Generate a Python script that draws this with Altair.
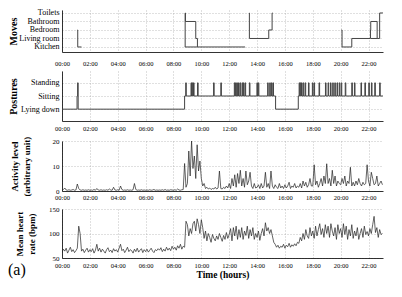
import json
import altair as alt
import pandas as pd

FONT = "Liberation Serif"

# ---------------- data ----------------
ROOMS = ["Kitchen", "Living room", "Bedroom", "Bathroom", "Toilets"]
move_seg = [0, 0, 0,
            1, 1, 1, 1, 1, 1,
            2, 2,
            3, 3, 3, 3, 3,
            4, 4, 4, 4, 4, 4, 4, 4,
            5, 5]
move_time = [1.10, 1.13, 1.40,
             8.82, 8.84, 8.86, 9.60, 9.72, 13.14,
             8.84, 9.72,
             13.43, 13.45, 14.84, 15.08, 15.12,
             20.06, 20.10, 20.80, 22.14, 22.16, 22.62, 22.80, 23.04,
             22.16, 22.62]
move_room = ["Bedroom", "Kitchen", "Kitchen",
             "Kitchen", "Toilets", "Bathroom", "Living room", "Kitchen", "Kitchen",
             "Kitchen", "Kitchen",
             "Toilets", "Living room", "Bedroom", "Toilets", "Toilets",
             "Bedroom", "Kitchen", "Living room", "Bedroom", "Bathroom", "Living room", "Toilets", "Toilets",
             "Living room", "Living room"]

POSTURES = ["Lying down", "Sitting", "Standing"]
posture_start = [(0.00, "Lying down"), (1.08, "Sitting"), (1.12, "Standing"),
                 (1.16, "Lying down"), (8.80, "Sitting")]
standing_bouts_am = [8.88, 9.26, 9.35, 9.44, 9.73, 10.88, 11.40, 12.37, 12.46, 12.55,
                     12.67, 12.79, 12.93, 13.02, 13.14, 13.45, 13.99, 14.09, 14.76,
                     14.91, 15.03, 15.14]
posture_mid = [(15.33, "Lying down"), (16.96, "Sitting")]
standing_bouts_pm = [17.02, 17.10, 17.19, 17.31, 17.45, 17.69, 17.97, 18.09, 18.45,
                     18.91, 19.10, 19.27, 19.43, 19.58, 19.74, 19.90, 20.04, 20.33,
                     20.80, 20.99, 21.46, 21.74, 22.02, 22.21, 22.45, 22.80]
bout_length = 0.04
posture_end = (23.04, "Sitting")

sample_step = 0.1  # hours between samples (one row per hour below)
activity = [
    0.4, 0.6, 1.2, 0.4, 0.3, 0.5, 0.3, 0.4, 0.6, 0.3,
    0.4, 2.8, 1.0, 0.4, 0.3, 0.5, 0.3, 0.4, 0.3, 0.5,
    0.3, 0.4, 0.3, 0.6, 0.3, 1.0, 0.4, 0.3, 0.5, 0.3,
    0.4, 0.3, 0.5, 0.3, 0.8, 0.4, 0.3, 1.5, 0.4, 0.3,
    0.5, 0.3, 2.0, 0.6, 0.3, 0.4, 0.3, 0.5, 0.3, 0.4,
    0.3, 0.5, 3.0, 0.6, 0.3, 0.4, 0.3, 0.5, 0.3, 0.4,
    0.3, 0.4, 0.3, 0.5, 0.3, 0.4, 0.6, 0.3, 0.4, 0.3,
    0.4, 0.3, 0.5, 0.3, 0.6, 0.3, 0.4, 0.3, 0.5, 0.4,
    0.3, 0.5, 0.3, 0.8, 0.4, 0.3, 0.5, 0.6, 11.0, 1.5,
    3.0, 16.0, 6.0, 20.0, 9.0, 14.0, 5.0, 18.5, 8.0, 12.0,
    5.0, 2.0, 3.0, 1.0, 1.5, 0.8, 1.2, 0.6, 1.0, 0.8,
    1.5, 0.8, 1.2, 8.0, 1.0, 0.8, 1.5, 1.0, 2.0, 1.2,
    3.0, 1.0, 5.0, 2.0, 6.5, 1.5, 7.0, 3.0, 8.3, 2.0,
    5.0, 1.5, 8.0, 2.5, 4.0, 7.5, 2.0, 1.0, 3.0, 1.2,
    1.5, 2.5, 1.0, 3.0, 1.2, 2.0, 7.5, 1.5, 3.0, 1.0,
    8.0, 2.0, 1.0, 2.5, 1.5, 1.0, 3.0, 1.2, 2.0, 1.0,
    2.5, 1.2, 2.0, 3.5, 1.0, 2.0, 1.5, 3.0, 1.2, 2.0,
    1.5, 3.0, 1.2, 4.0, 2.0, 3.5, 1.5, 2.5, 5.0, 2.0,
    2.0, 10.5, 2.5, 4.0, 1.5, 3.0, 5.0, 2.0, 6.0, 3.0,
    10.9, 3.0, 5.0, 2.0, 8.3, 3.0, 6.0, 2.0, 4.0, 3.0,
    2.5, 5.0, 3.0, 6.0, 2.0, 4.0, 3.0, 9.5, 2.0, 3.5,
    2.0, 4.0, 2.5, 5.0, 3.0, 2.0, 3.5, 2.5, 3.0, 10.5,
    4.0, 2.0, 7.5, 5.0, 2.5, 3.0, 6.0, 2.0, 3.0, 4.0,
    2.5,
]
heart = [
    62, 68, 64, 70, 60, 66, 72, 63, 67, 61,
    65, 70, 115, 100, 64, 68, 61, 66, 70, 62,
    67, 63, 69, 60, 66, 78, 64, 70, 62, 68,
    64, 60, 67, 71, 63, 66, 61, 69, 64, 67,
    62, 70, 78, 65, 68, 61, 66, 72, 63, 67,
    65, 60, 68, 63, 70, 62, 66, 69, 61, 67,
    63, 68, 62, 66, 70, 64, 61, 67, 65, 69,
    66, 71, 63, 68, 64, 72, 66, 70, 65, 74,
    68, 72, 66, 75, 70, 78, 68, 74, 72, 125,
    118, 95, 110, 100, 120, 125, 105, 130, 118, 100,
    128, 112, 90, 105, 85, 100, 92, 82, 98, 90,
    85, 95, 88, 100, 92, 84, 96, 88, 102, 90,
    98, 110, 85, 112, 95, 115, 88, 108, 92, 112,
    88, 105, 96, 115, 90, 108, 95, 112, 88, 100,
    92, 105, 86, 100, 110, 95, 122, 105, 112, 100,
    108, 95, 82, 78, 72, 76, 70, 74, 72, 78,
    70, 76, 73, 80, 72, 77, 74, 79, 75, 82,
    80, 92, 85, 100, 88, 108, 95, 90, 112, 95,
    105, 90, 115, 95, 108, 120, 98, 110, 92, 118,
    100, 115, 92, 120, 105, 95, 112, 88, 118, 100,
    110, 92, 120, 98, 115, 88, 108, 95, 118, 90,
    105, 95, 112, 88, 100, 110, 92, 115, 98, 104,
    95, 110, 100, 118, 135, 102, 112, 92, 108, 98,
    100,
]

# ---------------- tables ----------------
moves_df = pd.DataFrame({
    "seg": move_seg,
    "t": move_time,
    "r": [ROOMS.index(r) + 1 for r in move_room],
})

events = list(posture_start)
for t in standing_bouts_am:
    events += [(t, "Standing"), (round(t + bout_length, 3), "Sitting")]
events += posture_mid
for t in standing_bouts_pm:
    events += [(t, "Standing"), (round(t + bout_length, 3), "Sitting")]
events.append(posture_end)
post_df = pd.DataFrame({"t": [e[0] for e in events],
                        "p": [POSTURES.index(e[1]) + 1 for e in events]})

act_df = pd.DataFrame({"t": [round(i * sample_step, 2) for i in range(len(activity))],
                       "v": activity})
hr_df = pd.DataFrame({"t": [round(i * sample_step, 2) for i in range(len(heart))],
                      "v": heart})

# ---------------- chart ----------------
W = 321
X_DOMAIN = [0, 23.04]
LABEL_EXPR_X = "(datum.value < 10 ? '0' : '') + datum.value + ':00'"
TX = -54


def x_enc(pad, title=None):
    kw = dict(values=list(range(0, 23, 2)), labelExpr=LABEL_EXPR_X, labelFontSize=6.5,
              labelPadding=pad, labelFlush=False)
    if title:
        ax = alt.Axis(title=title, titleFontSize=9.5, titleFontWeight="bold", titlePadding=1, **kw)
    else:
        ax = alt.Axis(title=None, **kw)
    return alt.X("t:Q", scale=alt.Scale(domain=X_DOMAIN, nice=False, zero=False), axis=ax)


def y_axis(title, tx, h, values, label_expr=None, label_size=7, title_size=10):
    kw = dict(values=values, title=title, titleX=tx, titleY=h / 2, titleAngle=270,
              titleBaseline="top", titleAlign="center", titleFontSize=title_size,
              titleFontWeight="bold", titleLineHeight=12, labelFontSize=label_size,
              labelPadding=3)
    if label_expr:
        kw["labelExpr"] = label_expr
    return alt.Axis(**kw)


H1, H2, H3, H4 = 42, 50, 50, 49

moves_labels = json.dumps([""] + ROOMS).replace('"', "'")
moves = alt.Chart(moves_df).mark_line(interpolate="step-after", color="#444", strokeWidth=1).encode(
    x=x_enc(8),
    y=alt.Y("r:Q", scale=alt.Scale(domain=[0.41, 5.35], nice=False, zero=False),
            axis=y_axis("Moves", TX, H1, [1, 2, 3, 4, 5],
                        f"{moves_labels}[datum.value]", label_size=8)),
    detail="seg:N",
).properties(width=W, height=H1)

post_labels = json.dumps([""] + POSTURES).replace('"', "'")
postures = alt.Chart(post_df).mark_line(interpolate="step-after", color="#444", strokeWidth=1).encode(
    x=x_enc(4),
    y=alt.Y("p:Q", scale=alt.Scale(domain=[0.1, 3.9], nice=False, zero=False),
            axis=y_axis("Postures", TX, H2, [1, 2, 3],
                        f"{post_labels}[datum.value]", label_size=8)),
).properties(width=W, height=H2)

act = alt.Chart(act_df).mark_line(color="#222", strokeWidth=0.7, clip=True).encode(
    x=x_enc(3.5),
    y=alt.Y("v:Q", scale=alt.Scale(domain=[0, 20], nice=False),
            axis=y_axis(["Activity level", "(arbitrary unit)"], TX + 2, H3, [0, 10, 20],
                        title_size=9)),
).properties(width=W, height=H3)

hr_line = alt.Chart(hr_df).mark_line(color="#222", strokeWidth=0.7, clip=True).encode(
    x=x_enc(4, "Time (hours)"),
    y=alt.Y("v:Q", scale=alt.Scale(domain=[50, 150], nice=False, zero=False),
            axis=y_axis(["Mean heart", "rate (bpm)"], TX + 7, H4, [50, 100, 150],
                        title_size=9)),
)
panel_tag = alt.Chart(pd.DataFrame({"label": ["(a)"]})).mark_text(
    font=FONT, fontSize=16, align="left", baseline="middle", color="black"
).encode(x=alt.value(TX), y=alt.value(H4 + 12), text="label:N")
hr = alt.layer(hr_line, panel_tag).properties(width=W, height=H4)

chart = alt.vconcat(moves, postures, act, hr, spacing=4).properties(
    padding={"left": 0, "top": 0, "right": 5, "bottom": 5}
).configure_view(stroke=None).configure_axis(
    labelFont=FONT, titleFont=FONT, labelColor="black", titleColor="black",
    domainColor="black", domainWidth=0.8, ticks=False,
    grid=True, gridColor="#999", gridDash=[1, 2], gridWidth=0.6,
)

chart.save("out.html", embed_options={"renderer": "svg", "actions": False})
